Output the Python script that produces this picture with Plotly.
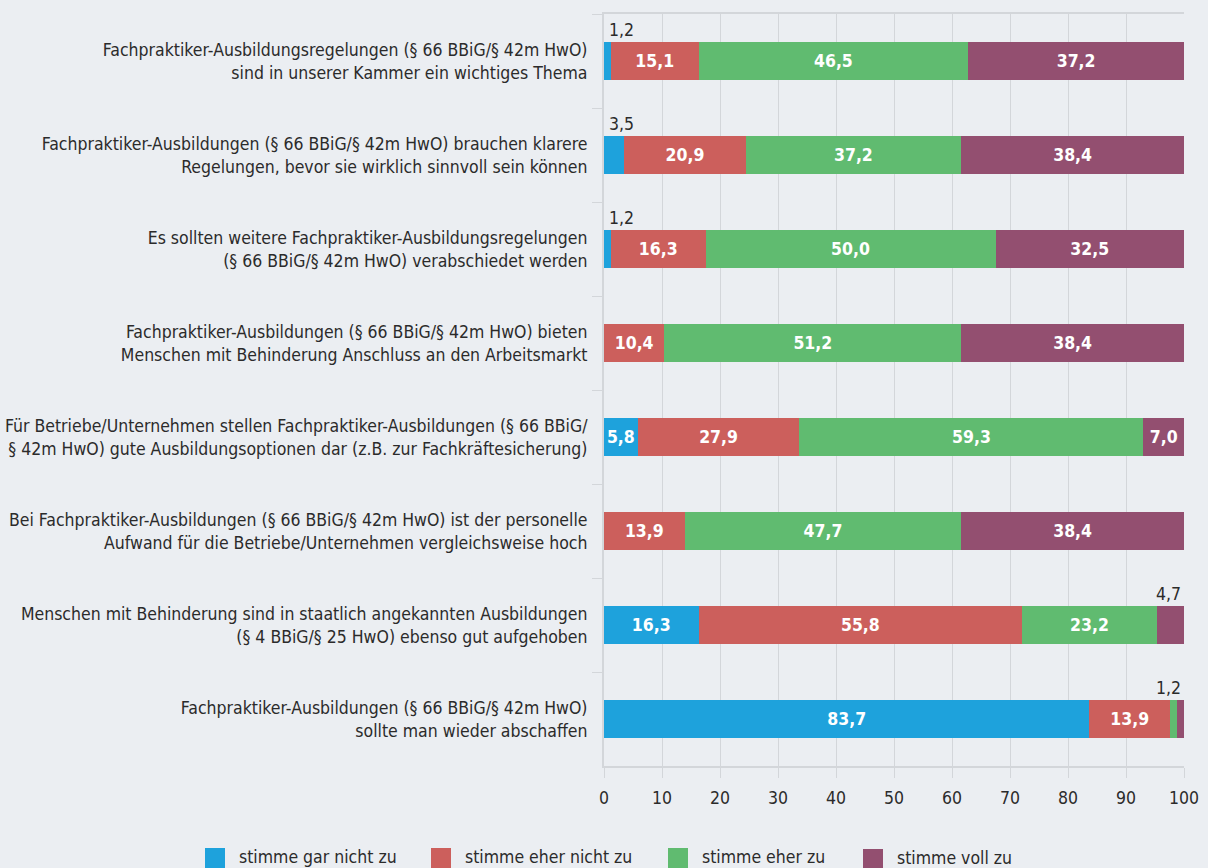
import plotly.graph_objects as go

categories = [
    "Fachpraktiker-Ausbildungsregelungen (§ 66 BBiG/§ 42m HwO)<br>sind in unserer Kammer ein wichtiges Thema",
    "Fachpraktiker-Ausbildungen (§ 66 BBiG/§ 42m HwO) brauchen klarere<br>Regelungen, bevor sie wirklich sinnvoll sein können",
    "Es sollten weitere Fachpraktiker-Ausbildungsregelungen<br>(§ 66 BBiG/§ 42m HwO) verabschiedet werden",
    "Fachpraktiker-Ausbildungen (§ 66 BBiG/§ 42m HwO) bieten<br>Menschen mit Behinderung Anschluss an den Arbeitsmarkt",
    "Für Betriebe/Unternehmen stellen Fachpraktiker-Ausbildungen (§ 66 BBiG/<br>§ 42m HwO) gute Ausbildungsoptionen dar (z.B. zur Fachkräftesicherung)",
    "Bei Fachpraktiker-Ausbildungen (§ 66 BBiG/§ 42m HwO) ist der personelle<br>Aufwand für die Betriebe/Unternehmen vergleichsweise hoch",
    "Menschen mit Behinderung sind in staatlich angekannten Ausbildungen<br>(§ 4 BBiG/§ 25 HwO) ebenso gut aufgehoben",
    "Fachpraktiker-Ausbildungen (§ 66 BBiG/§ 42m HwO)<br>sollte man wieder abschaffen",
]

series_names = ["stimme gar nicht zu", "stimme eher nicht zu", "stimme eher zu", "stimme voll zu"]
gar_nicht = [1.2, 3.5, 1.2, 0.0, 5.8, 0.0, 16.3, 83.7]
eher_nicht = [15.1, 20.9, 16.3, 10.4, 27.9, 13.9, 55.8, 13.9]
eher = [46.5, 37.2, 50.0, 51.2, 59.3, 47.7, 23.2, 1.2]
voll = [37.2, 38.4, 32.5, 38.4, 7.0, 38.4, 4.7, 1.2]
series_values = [gar_nicht, eher_nicht, eher, voll]
colors = ["#1ea2dc", "#cc5f5c", "#60bb70", "#934f70"]

# small values labelled outside above the bar: (row, series index, side)
outside_labels = [(0, 0, "left"), (1, 0, "left"), (2, 0, "left"), (6, 3, "right"), (7, 2, "right")]

x_ticks = list(range(0, 101, 10))

FONT = "DejaVu Sans Condensed"
TXT = "#2b2b2b"
BG = "#ebeef2"
GRID = "#d3d6da"
FS = 17.5

W, H = 1208, 868
ML, MR, MT, MB = 604, 24, 14, 102
PW, PH = W - ML - MR, H - MT - MB


def fmt(v):
    return f"{v:.1f}".replace(".", ",")


def px_to_paper(px, py):
    return (px - ML) / PW, (H - MB - py) / PH


fig = go.Figure()
for name, vals, col in zip(series_names, series_values, colors):
    fig.add_trace(go.Bar(
        y=categories, x=vals, orientation="h", name=name,
        marker=dict(color=col, line=dict(width=0)),
        text=[fmt(v) if v >= 5 else "" for v in vals],
        textposition="inside", insidetextanchor="middle", textangle=0,
        constraintext="none", cliponaxis=False,
        textfont=dict(family=FONT, size=FS, color="white", weight="bold"),
        showlegend=False, hoverinfo="x+name",
    ))

for row, si, side in outside_labels:
    v = series_values[si][row]
    if side == "left":
        xpos = sum(series_values[k][row] for k in range(si))
        anchor = "left"
    else:
        xpos = sum(series_values[k][row] for k in range(len(series_values)))
        anchor = "right"
    fig.add_annotation(
        x=xpos, y=categories[row], xref="x", yref="y",
        text=fmt(v), showarrow=False, xanchor=anchor, yanchor="bottom",
        yshift=19, xshift=(3 if anchor == "left" else -1),
        font=dict(family=FONT, size=FS, color=TXT),
    )

# legend drawn below the chart (square + label)
legend_left_px = [205, 431, 668, 863]
legend_top_px = [848, 848, 848, 849]
SQ = 20
for name, col, lx, ty in zip(series_names, colors, legend_left_px, legend_top_px):
    x0, y1 = px_to_paper(lx, ty)
    x1, y0 = px_to_paper(lx + SQ, ty + SQ)
    fig.add_shape(type="rect", xref="paper", yref="paper", x0=x0, x1=x1, y0=y0, y1=y1,
                  fillcolor=col, line=dict(width=0))
    tx, tyc = px_to_paper(lx + SQ + 12, ty + SQ / 2 - 1)
    fig.add_annotation(x=tx, y=tyc, xref="paper", yref="paper", text=name,
                       showarrow=False, xanchor="left", yanchor="middle",
                       font=dict(family=FONT, size=FS, color=TXT))

fig.update_layout(
    width=W, height=H,
    barmode="stack", bargap=0.6,
    paper_bgcolor=BG, plot_bgcolor=BG,
    margin=dict(l=ML, r=MR, t=MT, b=MB, autoexpand=False),
    font=dict(family=FONT, size=FS, color=TXT),
    showlegend=False,
    uniformtext=dict(mode="show", minsize=FS),
)
fig.update_xaxes(
    range=[0, 100], tickvals=x_ticks, ticktext=[str(t) for t in x_ticks],
    showgrid=True, gridcolor=GRID, gridwidth=1,
    ticks="outside", ticklen=10, tickcolor=GRID,
    showline=True, linecolor=GRID, linewidth=2, mirror=True,
    zeroline=False, automargin=False, ticklabelstandoff=5,
    tickfont=dict(family=FONT, size=FS, color=TXT),
)
fig.update_yaxes(
    categoryorder="array", categoryarray=categories, autorange="reversed",
    tickson="boundaries", ticks="outside", ticklen=10, tickcolor=GRID,
    showline=True, linecolor=GRID, linewidth=2,
    showgrid=False, ticklabelstandoff=11, automargin=False,
    tickfont=dict(family=FONT, size=FS, color=TXT),
)

fig.write_html(
    "out.html",
    config={"displayModeBar": False},
    post_script="document.body.style.margin='0';document.body.style.background='%s';" % BG,
)
